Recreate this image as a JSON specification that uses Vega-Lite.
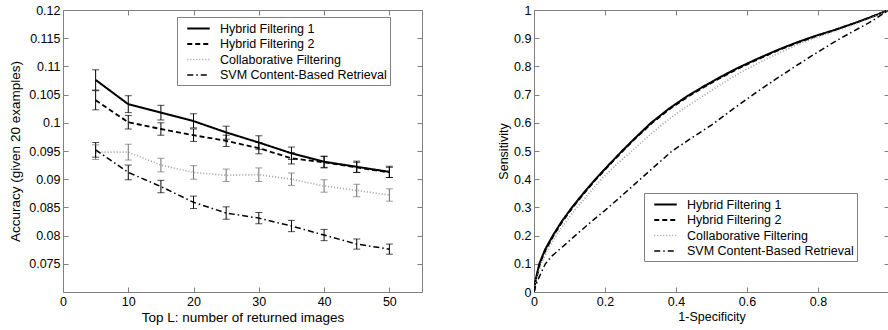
{
  "$schema": "https://vega.github.io/schema/vega-lite/v6.json",
  "background": "white",
  "padding": {"left": 8, "top": 3, "right": 0, "bottom": 0},
  "bounds": "flush",
  "spacing": 112,
  "config": {
    "font": "Liberation Sans",
    "view": {"stroke": "#808080", "strokeWidth": 1},
    "axis": {
      "grid": false, "domain": false, "tickColor": "#808080", "tickSize": -5,
      "labelFont": "Liberation Sans", "labelFontSize": 12.5, "labelColor": "#000",
      "titleFont": "Liberation Sans", "titleFontSize": 12.5, "titleFontWeight": "normal", "titleColor": "#000",
      "labelPadding": 8, "labelFlush": false, "labelOverlap": false
    },
    "legend": {
      "orient": "none", "symbolType": "M-1.5,0H1.5", "symbolSize": 225, "symbolStrokeWidth": 1.5, "symbolOffset": 10,
      "labelFont": "Liberation Sans", "labelFontSize": 12.5, "labelColor": "#000", "labelLimit": 400,
      "rowPadding": 0.5, "padding": 3, "strokeColor": "#808080", "fillColor": "white", "labelOffset": 13
    }
  },
  "datasets": {
    "acc": [
      {"L": 5, "series": "Hybrid Filtering 1", "acc": 0.1076, "lo": 0.1058, "hi": 0.1094},
      {"L": 10, "series": "Hybrid Filtering 1", "acc": 0.1033, "lo": 0.1018, "hi": 0.1048},
      {"L": 15, "series": "Hybrid Filtering 1", "acc": 0.1018, "lo": 0.1005, "hi": 0.1031},
      {"L": 20, "series": "Hybrid Filtering 1", "acc": 0.1003, "lo": 0.0991, "hi": 0.1016},
      {"L": 25, "series": "Hybrid Filtering 1", "acc": 0.0983, "lo": 0.0971, "hi": 0.0994},
      {"L": 30, "series": "Hybrid Filtering 1", "acc": 0.0965, "lo": 0.0953, "hi": 0.0977},
      {"L": 35, "series": "Hybrid Filtering 1", "acc": 0.0946, "lo": 0.0935, "hi": 0.0957},
      {"L": 40, "series": "Hybrid Filtering 1", "acc": 0.0931, "lo": 0.0921, "hi": 0.0941},
      {"L": 45, "series": "Hybrid Filtering 1", "acc": 0.0922, "lo": 0.0912, "hi": 0.0932},
      {"L": 50, "series": "Hybrid Filtering 1", "acc": 0.0913, "lo": 0.0903, "hi": 0.0923},
      {"L": 5, "series": "Hybrid Filtering 2", "acc": 0.1040, "lo": 0.1023, "hi": 0.1057},
      {"L": 10, "series": "Hybrid Filtering 2", "acc": 0.1001, "lo": 0.0989, "hi": 0.1013},
      {"L": 15, "series": "Hybrid Filtering 2", "acc": 0.0989, "lo": 0.0978, "hi": 0.1000},
      {"L": 20, "series": "Hybrid Filtering 2", "acc": 0.0978, "lo": 0.0967, "hi": 0.0989},
      {"L": 25, "series": "Hybrid Filtering 2", "acc": 0.0968, "lo": 0.0958, "hi": 0.0978},
      {"L": 30, "series": "Hybrid Filtering 2", "acc": 0.0955, "lo": 0.0945, "hi": 0.0965},
      {"L": 35, "series": "Hybrid Filtering 2", "acc": 0.0937, "lo": 0.0927, "hi": 0.0947},
      {"L": 40, "series": "Hybrid Filtering 2", "acc": 0.0930, "lo": 0.0920, "hi": 0.0940},
      {"L": 45, "series": "Hybrid Filtering 2", "acc": 0.0921, "lo": 0.0912, "hi": 0.0930},
      {"L": 50, "series": "Hybrid Filtering 2", "acc": 0.0912, "lo": 0.0903, "hi": 0.0921},
      {"L": 5, "series": "Collaborative Filtering", "acc": 0.0948, "lo": 0.0935, "hi": 0.0961},
      {"L": 10, "series": "Collaborative Filtering", "acc": 0.0948, "lo": 0.0934, "hi": 0.0962},
      {"L": 15, "series": "Collaborative Filtering", "acc": 0.0925, "lo": 0.0913, "hi": 0.0937},
      {"L": 20, "series": "Collaborative Filtering", "acc": 0.0912, "lo": 0.0900, "hi": 0.0924},
      {"L": 25, "series": "Collaborative Filtering", "acc": 0.0907, "lo": 0.0896, "hi": 0.0918},
      {"L": 30, "series": "Collaborative Filtering", "acc": 0.0908, "lo": 0.0896, "hi": 0.0920},
      {"L": 35, "series": "Collaborative Filtering", "acc": 0.0900, "lo": 0.0889, "hi": 0.0911},
      {"L": 40, "series": "Collaborative Filtering", "acc": 0.0888, "lo": 0.0877, "hi": 0.0899},
      {"L": 45, "series": "Collaborative Filtering", "acc": 0.0880, "lo": 0.0869, "hi": 0.0891},
      {"L": 50, "series": "Collaborative Filtering", "acc": 0.0872, "lo": 0.0861, "hi": 0.0883},
      {"L": 5, "series": "SVM Content-Based Retrieval", "acc": 0.0952, "lo": 0.0939, "hi": 0.0965},
      {"L": 10, "series": "SVM Content-Based Retrieval", "acc": 0.0912, "lo": 0.0899, "hi": 0.0925},
      {"L": 15, "series": "SVM Content-Based Retrieval", "acc": 0.0887, "lo": 0.0876, "hi": 0.0898},
      {"L": 20, "series": "SVM Content-Based Retrieval", "acc": 0.0859, "lo": 0.0848, "hi": 0.0870},
      {"L": 25, "series": "SVM Content-Based Retrieval", "acc": 0.0840, "lo": 0.0829, "hi": 0.0851},
      {"L": 30, "series": "SVM Content-Based Retrieval", "acc": 0.0831, "lo": 0.0821, "hi": 0.0841},
      {"L": 35, "series": "SVM Content-Based Retrieval", "acc": 0.0817, "lo": 0.0807, "hi": 0.0827},
      {"L": 40, "series": "SVM Content-Based Retrieval", "acc": 0.0801, "lo": 0.0791, "hi": 0.0811},
      {"L": 45, "series": "SVM Content-Based Retrieval", "acc": 0.0785, "lo": 0.0776, "hi": 0.0794},
      {"L": 50, "series": "SVM Content-Based Retrieval", "acc": 0.0776, "lo": 0.0767, "hi": 0.0785}
    ],
    "roc": [
      {"series": "Hybrid Filtering 1", "fpr": 0, "tpr": 0},
      {"series": "Hybrid Filtering 1", "fpr": 0.004, "tpr": 0.04},
      {"series": "Hybrid Filtering 1", "fpr": 0.015, "tpr": 0.1},
      {"series": "Hybrid Filtering 1", "fpr": 0.031, "tpr": 0.15},
      {"series": "Hybrid Filtering 1", "fpr": 0.053, "tpr": 0.2},
      {"series": "Hybrid Filtering 1", "fpr": 0.078, "tpr": 0.25},
      {"series": "Hybrid Filtering 1", "fpr": 0.107, "tpr": 0.3},
      {"series": "Hybrid Filtering 1", "fpr": 0.139, "tpr": 0.35},
      {"series": "Hybrid Filtering 1", "fpr": 0.173, "tpr": 0.4},
      {"series": "Hybrid Filtering 1", "fpr": 0.21, "tpr": 0.45},
      {"series": "Hybrid Filtering 1", "fpr": 0.248, "tpr": 0.5},
      {"series": "Hybrid Filtering 1", "fpr": 0.288, "tpr": 0.55},
      {"series": "Hybrid Filtering 1", "fpr": 0.33, "tpr": 0.6},
      {"series": "Hybrid Filtering 1", "fpr": 0.38, "tpr": 0.65},
      {"series": "Hybrid Filtering 1", "fpr": 0.431, "tpr": 0.694},
      {"series": "Hybrid Filtering 1", "fpr": 0.475, "tpr": 0.727},
      {"series": "Hybrid Filtering 1", "fpr": 0.52, "tpr": 0.759},
      {"series": "Hybrid Filtering 1", "fpr": 0.57, "tpr": 0.792},
      {"series": "Hybrid Filtering 1", "fpr": 0.624, "tpr": 0.824},
      {"series": "Hybrid Filtering 1", "fpr": 0.68, "tpr": 0.855},
      {"series": "Hybrid Filtering 1", "fpr": 0.736, "tpr": 0.883},
      {"series": "Hybrid Filtering 1", "fpr": 0.79, "tpr": 0.907},
      {"series": "Hybrid Filtering 1", "fpr": 0.849, "tpr": 0.93},
      {"series": "Hybrid Filtering 1", "fpr": 0.9, "tpr": 0.952},
      {"series": "Hybrid Filtering 1", "fpr": 0.943, "tpr": 0.972},
      {"series": "Hybrid Filtering 1", "fpr": 1, "tpr": 1},
      {"series": "Hybrid Filtering 2", "fpr": 0, "tpr": 0},
      {"series": "Hybrid Filtering 2", "fpr": 0.005, "tpr": 0.04},
      {"series": "Hybrid Filtering 2", "fpr": 0.017, "tpr": 0.1},
      {"series": "Hybrid Filtering 2", "fpr": 0.033, "tpr": 0.15},
      {"series": "Hybrid Filtering 2", "fpr": 0.055, "tpr": 0.2},
      {"series": "Hybrid Filtering 2", "fpr": 0.08, "tpr": 0.25},
      {"series": "Hybrid Filtering 2", "fpr": 0.109, "tpr": 0.3},
      {"series": "Hybrid Filtering 2", "fpr": 0.141, "tpr": 0.35},
      {"series": "Hybrid Filtering 2", "fpr": 0.175, "tpr": 0.4},
      {"series": "Hybrid Filtering 2", "fpr": 0.212, "tpr": 0.45},
      {"series": "Hybrid Filtering 2", "fpr": 0.25, "tpr": 0.5},
      {"series": "Hybrid Filtering 2", "fpr": 0.29, "tpr": 0.55},
      {"series": "Hybrid Filtering 2", "fpr": 0.333, "tpr": 0.6},
      {"series": "Hybrid Filtering 2", "fpr": 0.383, "tpr": 0.65},
      {"series": "Hybrid Filtering 2", "fpr": 0.434, "tpr": 0.693},
      {"series": "Hybrid Filtering 2", "fpr": 0.478, "tpr": 0.726},
      {"series": "Hybrid Filtering 2", "fpr": 0.523, "tpr": 0.758},
      {"series": "Hybrid Filtering 2", "fpr": 0.573, "tpr": 0.791},
      {"series": "Hybrid Filtering 2", "fpr": 0.627, "tpr": 0.823},
      {"series": "Hybrid Filtering 2", "fpr": 0.682, "tpr": 0.854},
      {"series": "Hybrid Filtering 2", "fpr": 0.738, "tpr": 0.882},
      {"series": "Hybrid Filtering 2", "fpr": 0.792, "tpr": 0.906},
      {"series": "Hybrid Filtering 2", "fpr": 0.85, "tpr": 0.93},
      {"series": "Hybrid Filtering 2", "fpr": 0.9, "tpr": 0.952},
      {"series": "Hybrid Filtering 2", "fpr": 0.943, "tpr": 0.972},
      {"series": "Hybrid Filtering 2", "fpr": 1, "tpr": 1},
      {"series": "Collaborative Filtering", "fpr": 0, "tpr": 0},
      {"series": "Collaborative Filtering", "fpr": 0.006, "tpr": 0.04},
      {"series": "Collaborative Filtering", "fpr": 0.02, "tpr": 0.1},
      {"series": "Collaborative Filtering", "fpr": 0.039, "tpr": 0.15},
      {"series": "Collaborative Filtering", "fpr": 0.062, "tpr": 0.2},
      {"series": "Collaborative Filtering", "fpr": 0.09, "tpr": 0.25},
      {"series": "Collaborative Filtering", "fpr": 0.121, "tpr": 0.3},
      {"series": "Collaborative Filtering", "fpr": 0.155, "tpr": 0.35},
      {"series": "Collaborative Filtering", "fpr": 0.19, "tpr": 0.4},
      {"series": "Collaborative Filtering", "fpr": 0.23, "tpr": 0.45},
      {"series": "Collaborative Filtering", "fpr": 0.276, "tpr": 0.5},
      {"series": "Collaborative Filtering", "fpr": 0.32, "tpr": 0.55},
      {"series": "Collaborative Filtering", "fpr": 0.365, "tpr": 0.598},
      {"series": "Collaborative Filtering", "fpr": 0.415, "tpr": 0.645},
      {"series": "Collaborative Filtering", "fpr": 0.47, "tpr": 0.69},
      {"series": "Collaborative Filtering", "fpr": 0.525, "tpr": 0.735},
      {"series": "Collaborative Filtering", "fpr": 0.586, "tpr": 0.782},
      {"series": "Collaborative Filtering", "fpr": 0.66, "tpr": 0.83},
      {"series": "Collaborative Filtering", "fpr": 0.736, "tpr": 0.874},
      {"series": "Collaborative Filtering", "fpr": 0.8, "tpr": 0.905},
      {"series": "Collaborative Filtering", "fpr": 0.849, "tpr": 0.925},
      {"series": "Collaborative Filtering", "fpr": 0.9, "tpr": 0.948},
      {"series": "Collaborative Filtering", "fpr": 0.943, "tpr": 0.968},
      {"series": "Collaborative Filtering", "fpr": 1, "tpr": 1},
      {"series": "SVM Content-Based Retrieval", "fpr": 0, "tpr": 0},
      {"series": "SVM Content-Based Retrieval", "fpr": 0.005, "tpr": 0.025},
      {"series": "SVM Content-Based Retrieval", "fpr": 0.015, "tpr": 0.054},
      {"series": "SVM Content-Based Retrieval", "fpr": 0.032, "tpr": 0.1},
      {"series": "SVM Content-Based Retrieval", "fpr": 0.05, "tpr": 0.127},
      {"series": "SVM Content-Based Retrieval", "fpr": 0.07, "tpr": 0.149},
      {"series": "SVM Content-Based Retrieval", "fpr": 0.092, "tpr": 0.173},
      {"series": "SVM Content-Based Retrieval", "fpr": 0.116, "tpr": 0.2},
      {"series": "SVM Content-Based Retrieval", "fpr": 0.162, "tpr": 0.25},
      {"series": "SVM Content-Based Retrieval", "fpr": 0.21, "tpr": 0.3},
      {"series": "SVM Content-Based Retrieval", "fpr": 0.255, "tpr": 0.35},
      {"series": "SVM Content-Based Retrieval", "fpr": 0.2995, "tpr": 0.4},
      {"series": "SVM Content-Based Retrieval", "fpr": 0.344, "tpr": 0.45},
      {"series": "SVM Content-Based Retrieval", "fpr": 0.389, "tpr": 0.5},
      {"series": "SVM Content-Based Retrieval", "fpr": 0.445, "tpr": 0.547},
      {"series": "SVM Content-Based Retrieval", "fpr": 0.501, "tpr": 0.593},
      {"series": "SVM Content-Based Retrieval", "fpr": 0.562, "tpr": 0.65},
      {"series": "SVM Content-Based Retrieval", "fpr": 0.624, "tpr": 0.706},
      {"series": "SVM Content-Based Retrieval", "fpr": 0.68, "tpr": 0.754},
      {"series": "SVM Content-Based Retrieval", "fpr": 0.736, "tpr": 0.8},
      {"series": "SVM Content-Based Retrieval", "fpr": 0.792, "tpr": 0.845},
      {"series": "SVM Content-Based Retrieval", "fpr": 0.849, "tpr": 0.889},
      {"series": "SVM Content-Based Retrieval", "fpr": 0.9, "tpr": 0.925},
      {"series": "SVM Content-Based Retrieval", "fpr": 0.943, "tpr": 0.954},
      {"series": "SVM Content-Based Retrieval", "fpr": 1, "tpr": 1}
    ]
  },
  "hconcat": [
    {
      "width": 359,
      "height": 282,
      "data": {"name": "acc"},
      "layer": [
        {
          "mark": {"type": "line", "clip": true},
          "encoding": {
            "x": {"field": "L", "type": "quantitative", "scale": {"domain": [0, 55], "nice": false},
                  "axis": {"values": [0, 10, 20, 30, 40, 50], "title": "Top L: number of returned images", "titlePadding": 3, "titleFontSize": 13.5}},
            "y": {"field": "acc", "type": "quantitative", "scale": {"domain": [0.07, 0.12], "nice": false, "zero": false},
                  "axis": {"values": [0.075, 0.08, 0.085, 0.09, 0.095, 0.1, 0.105, 0.11, 0.115, 0.12], "format": "~g", "title": "Accuracy (given 20 examples)", "titlePadding": 6, "titleFontSize": 13.5}},
            "color": {"field": "series", "type": "nominal",
                      "scale": {"domain": ["Hybrid Filtering 1", "Hybrid Filtering 2", "Collaborative Filtering", "SVM Content-Based Retrieval"], "range": ["#000000", "#000000", "#a0a0a0", "#000000"]},
                      "legend": {"title": null, "legendX": 114, "legendY": 7}},
            "strokeDash": {"field": "series", "type": "nominal",
                      "scale": {"domain": ["Hybrid Filtering 1", "Hybrid Filtering 2", "Collaborative Filtering", "SVM Content-Based Retrieval"], "range": [[1, 0], [5, 3], [1, 2], [6, 3, 1.5, 3]]},
                      "legend": {"title": null, "legendX": 114, "legendY": 7}},
            "strokeWidth": {"field": "series", "type": "nominal",
                      "scale": {"domain": ["Hybrid Filtering 1", "Hybrid Filtering 2", "Collaborative Filtering", "SVM Content-Based Retrieval"], "range": [2, 1.5, 1.3, 1.5]},
                      "legend": null}
          }
        },
        {
          "mark": {"type": "rule", "strokeWidth": 1},
          "encoding": {
            "x": {"field": "L", "type": "quantitative", "scale": {"domain": [0, 55], "nice": false}, "axis": null},
            "y": {"field": "lo", "type": "quantitative", "scale": {"domain": [0.07, 0.12], "nice": false, "zero": false}, "axis": null},
            "y2": {"field": "hi"},
            "color": {"condition": {"test": "datum.series === 'Collaborative Filtering'", "value": "#707070"}, "value": "#000000"}
          }
        },
        {
          "mark": {"type": "tick", "orient": "horizontal", "size": 7, "thickness": 1},
          "encoding": {
            "x": {"field": "L", "type": "quantitative", "scale": {"domain": [0, 55], "nice": false}, "axis": null},
            "y": {"field": "lo", "type": "quantitative", "scale": {"domain": [0.07, 0.12], "nice": false, "zero": false}, "axis": null},
            "color": {"condition": {"test": "datum.series === 'Collaborative Filtering'", "value": "#707070"}, "value": "#000000"}
          }
        },
        {
          "mark": {"type": "tick", "orient": "horizontal", "size": 7, "thickness": 1},
          "encoding": {
            "x": {"field": "L", "type": "quantitative", "scale": {"domain": [0, 55], "nice": false}, "axis": null},
            "y": {"field": "hi", "type": "quantitative", "scale": {"domain": [0.07, 0.12], "nice": false, "zero": false}, "axis": null},
            "color": {"condition": {"test": "datum.series === 'Collaborative Filtering'", "value": "#707070"}, "value": "#000000"}
          }
        },
        {
          "mark": {"type": "point", "opacity": 0},
          "encoding": {
            "x": {"field": "L", "type": "quantitative", "scale": {"domain": [0, 55], "nice": false},
                  "axis": {"orient": "top", "labels": false, "title": null, "values": [0, 10, 20, 30, 40, 50]}},
            "y": {"field": "acc", "type": "quantitative", "scale": {"domain": [0.07, 0.12], "nice": false, "zero": false},
                  "axis": {"orient": "right", "labels": false, "title": null, "values": [0.075, 0.08, 0.085, 0.09, 0.095, 0.1, 0.105, 0.11, 0.115, 0.12]}}
          }
        }
      ],
      "resolve": {"axis": {"x": "independent", "y": "independent"}}
    },
    {
      "width": 355,
      "height": 282,
      "data": {"name": "roc"},
      "layer": [
        {
          "mark": {"type": "line", "clip": true},
          "encoding": {
            "x": {"field": "fpr", "type": "quantitative", "scale": {"domain": [0, 1], "nice": false},
                  "axis": {"values": [0, 0.2, 0.4, 0.6, 0.8], "format": "~g", "title": "1-Specificity", "titlePadding": 3}},
            "y": {"field": "tpr", "type": "quantitative", "scale": {"domain": [0, 1], "nice": false},
                  "axis": {"values": [0, 0.1, 0.2, 0.3, 0.4, 0.5, 0.6, 0.7, 0.8, 0.9, 1], "format": "~g", "title": "Sensitivity", "titlePadding": 3}},
            "color": {"field": "series", "type": "nominal",
                      "scale": {"domain": ["Hybrid Filtering 1", "Hybrid Filtering 2", "Collaborative Filtering", "SVM Content-Based Retrieval"], "range": ["#000000", "#000000", "#a0a0a0", "#000000"]},
                      "legend": {"title": null, "legendX": 110, "legendY": 183}},
            "strokeDash": {"field": "series", "type": "nominal",
                      "scale": {"domain": ["Hybrid Filtering 1", "Hybrid Filtering 2", "Collaborative Filtering", "SVM Content-Based Retrieval"], "range": [[1, 0], [5, 3], [1, 2], [6, 3, 1.5, 3]]},
                      "legend": {"title": null, "legendX": 110, "legendY": 183}},
            "strokeWidth": {"field": "series", "type": "nominal",
                      "scale": {"domain": ["Hybrid Filtering 1", "Hybrid Filtering 2", "Collaborative Filtering", "SVM Content-Based Retrieval"], "range": [2, 1.5, 1.3, 1.5]},
                      "legend": null}
          }
        },
        {
          "mark": {"type": "point", "opacity": 0},
          "encoding": {
            "x": {"field": "fpr", "type": "quantitative", "scale": {"domain": [0, 1], "nice": false},
                  "axis": {"orient": "top", "labels": false, "title": null, "values": [0, 0.2, 0.4, 0.6, 0.8, 1]}},
            "y": {"field": "tpr", "type": "quantitative", "scale": {"domain": [0, 1], "nice": false},
                  "axis": {"orient": "right", "labels": false, "title": null, "values": [0, 0.1, 0.2, 0.3, 0.4, 0.5, 0.6, 0.7, 0.8, 0.9, 1]}}
          }
        }
      ],
      "resolve": {"axis": {"x": "independent", "y": "independent"}}
    }
  ],
  "resolve": {
    "scale": {"color": "independent", "strokeDash": "independent", "strokeWidth": "independent"},
    "legend": {"color": "independent", "strokeDash": "independent"}
  }
}
